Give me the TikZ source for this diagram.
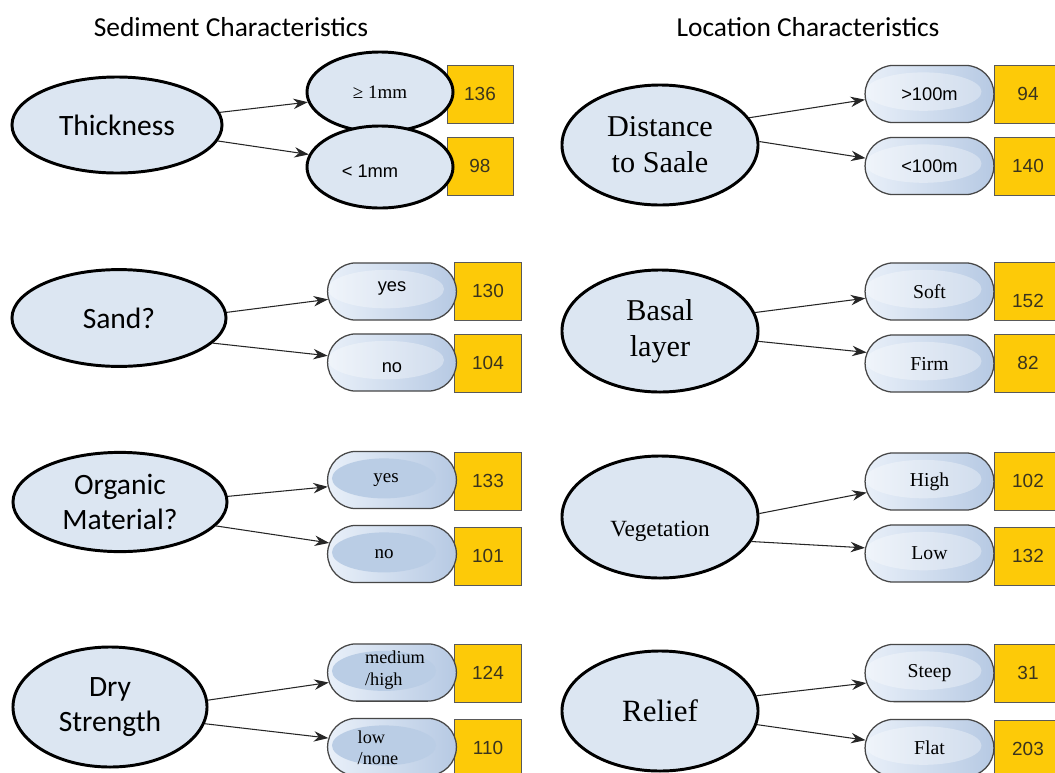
\documentclass[tikz,border=0pt]{standalone}
\usepackage{fontspec}
\setmainfont{Liberation Serif}
\newfontfamily\calibri{Carlito}
\newfontfamily\arial{Liberation Sans}
\usetikzlibrary{shapes.geometric,shapes.misc,arrows.meta}
\definecolor{ellfill}{RGB}{220,230,242}
\definecolor{pillL}{RGB}{233,240,249}
\definecolor{pillR}{RGB}{182,201,227}
\definecolor{dullblue}{RGB}{186,205,229}
\definecolor{boxfill}{RGB}{253,202,8}
\definecolor{numcol}{RGB}{58,52,30}
% shift the visible text, keep the box
\newcommand\lift[2]{\raisebox{#1}[\height][\depth]{#2}}

\begin{document}
\begin{tikzpicture}[x=0.025cm,y=-0.025cm,
  big/.style={ellipse,draw=black,line width=2.1pt,fill=ellfill,inner sep=0pt,align=center},
  pill/.style={rounded rectangle,draw=black!72,line width=0.9pt,left color=pillL,right color=pillR,
    minimum width=3.22cm,minimum height=1.43cm,inner sep=0pt},
  gloss/.style={path picture={\fill[white,opacity=.33] ([xshift=-0.15cm,yshift=0.06cm]path picture bounding box.center) ellipse (1.45cm and 0.48cm);}},
  dull/.style={path picture={\fill[dullblue] ([xshift=-0.2cm,yshift=0.04cm]path picture bounding box.center) ellipse (1.3cm and 0.5cm);}},
  count/.style={draw=black!65,line width=0.7pt,fill=boxfill,minimum height=1.45cm,inner sep=0pt,
    font=\arial\fontsize{13.5}{16}\selectfont,text=numcol},
  arr/.style={-{Stealth[length=3.6mm,width=2.6mm]},line width=0.75pt,black!85},
  sans/.style={font=\calibri\fontsize{21}{25}\selectfont},
  serif/.style={font=\fontsize{21.5}{25.6}\selectfont},
  tag/.style={font=\arial\fontsize{13}{15}\selectfont},
  word/.style={font=\fontsize{14}{16}\selectfont}
]
\useasboundingbox[fill=white] (0,0) rectangle (1055,772);

% headings
\node[font=\calibri\fontsize{19.5}{23}\selectfont] (sedhead) at (231,27) {Sediment Characteristics};
\node[font=\calibri\fontsize{19.5}{23}\selectfont] (lochead) at (808,27) {Location Characteristics};

% ---- sediment: thickness
\node[big,sans,minimum width=5.25cm,minimum height=2.4cm] (thick) at (117,125) {Thickness};
\node[count,minimum width=1.65cm] (n136) at (480,94) {136};
\node[count,minimum width=1.65cm] (n98) at (480,166) {98};
\node[big,minimum width=3.65cm,minimum height=2cm,font=\fontsize{13.5}{16}\selectfont] (thkA) at (380,92) {≥ 1mm};
\node[big,minimum width=3.65cm,minimum height=2.05cm,tag] (thkB) at (380,167) {\hspace*{-0.5cm}\lift{-3pt}{< 1mm}};
\draw[arr] (thick.7) -- (thkA.188);
\draw[arr] (thick.-9) -- (thkB.170);

% ---- sediment: sand
\node[big,sans,minimum width=5.35cm,minimum height=2.42cm] (sand) at (119,318) {Sand?};
\node[count,minimum width=1.68cm] (n130) at (488,291) {130};
\node[count,minimum width=1.68cm] (n104) at (488,363) {104};
\node[pill,gloss,tag] (sandA) at (392,291.5) {\lift{2pt}{yes}};
\node[pill,gloss,tag] (sandB) at (392,362.5) {\lift{-4pt}{no}};
\draw[arr] (sand.3) -- (sandA.187);
\draw[arr] (sand.-15) -- (sandB.174);

% ---- sediment: organic material
\node[big,sans,minimum width=5.35cm,minimum height=2.48cm] (organic) at (120,502) {Organic\\Material?};
\node[count,minimum width=1.68cm] (n133) at (488,481) {133};
\node[count,minimum width=1.68cm] (n101) at (488,556) {101};
\node[pill,dull,font=\fontsize{13.5}{16}\selectfont] (orgA) at (392,480) {\hspace*{-0.3cm}yes};
\node[pill,dull,font=\fontsize{13.5}{16}\selectfont] (orgB) at (392,554) {\hspace*{-0.4cm}no};
\draw[arr] (organic.3) -- (orgA.186);
\draw[arr] (organic.-14) -- (orgB.170);

% ---- sediment: dry strength
\node[big,sans,minimum width=4.85cm,minimum height=3cm] (dry) at (110,707) {Dry\\Strength};
\node[count,minimum width=1.68cm] (n124) at (488,673) {124};
\node[count,minimum width=1.68cm] (n110) at (488,748) {110};
\node[pill,dull] (dryA) at (392,672.5) {};
\node[pill,dull] (dryB) at (392,747) {};
\node[align=left,font=\fontsize{13}{15.6}\selectfont] (dryAtxt) at (395,670) {medium\\/high};
\node[align=left,font=\fontsize{13}{15}\selectfont] (dryBtxt) at (378,748) {low\\/none};
\draw[arr] (dry.4) -- (dryA.189);
\draw[arr] (dry.-10) -- (dryB.172);

% ---- location: distance to Saale
\node[big,serif,minimum width=4.9cm,minimum height=3cm] (dist) at (660,145) {Distance\\to Saale};
\node[count,minimum width=1.7cm] (n94) at (1028,94) {94};
\node[count,minimum width=1.7cm] (n140) at (1028,166) {140};
\node[pill,gloss,tag] (distA) at (929.5,94) {>100m};
\node[pill,gloss,tag] (distB) at (929.5,166) {<100m};
\draw[arr] (dist.17) -- (distA.185);
\draw[arr] (dist.2) -- (distB.173);

% ---- location: basal layer
\node[big,serif,minimum width=4.9cm,minimum height=3.05cm] (basal) at (660,331) {Basal\\layer};
\node[count,minimum width=1.7cm] (n152) at (1028,291) {\lift{-7pt}{152}};
\node[count,minimum width=1.7cm] (n82) at (1028,363) {82};
\node[pill,gloss,word] (basA) at (929.5,291.5) {Soft};
\node[pill,gloss,word] (basB) at (929.5,363.5) {Firm};
\draw[arr] (basal.11) -- (basA.186);
\draw[arr] (basal.-6) -- (basB.170);

% ---- location: vegetation
\node[big,minimum width=4.9cm,minimum height=3.05cm,font=\fontsize{16.5}{20}\selectfont] (veg) at (660,517) {\lift{-10pt}{Vegetation}};
\node[count,minimum width=1.7cm] (n102) at (1028,481) {102};
\node[count,minimum width=1.7cm] (n132) at (1028,556) {132};
\node[pill,gloss,word] (vegA) at (929.5,481.5) {High};
\node[pill,gloss,word] (vegB) at (929.5,553.5) {Low};
\draw[arr] (veg.2) -- (vegA.190);
\draw[arr] (veg.-15) -- (vegB.175);

% ---- location: relief
\node[big,minimum width=4.9cm,minimum height=3cm,font=\fontsize{22}{26}\selectfont] (relief) at (660,711) {Relief};
\node[count,minimum width=1.7cm] (n31) at (1028,673) {31};
\node[count,minimum width=1.7cm] (n203) at (1028,749) {203};
\node[pill,gloss,word] (relA) at (929.5,673) {Steep};
\node[pill,gloss,word] (relB) at (929.5,748) {Flat};
\draw[arr] (relief.9) -- (relA.189);
\draw[arr] (relief.-8) -- (relB.173);
\end{tikzpicture}
\end{document}
